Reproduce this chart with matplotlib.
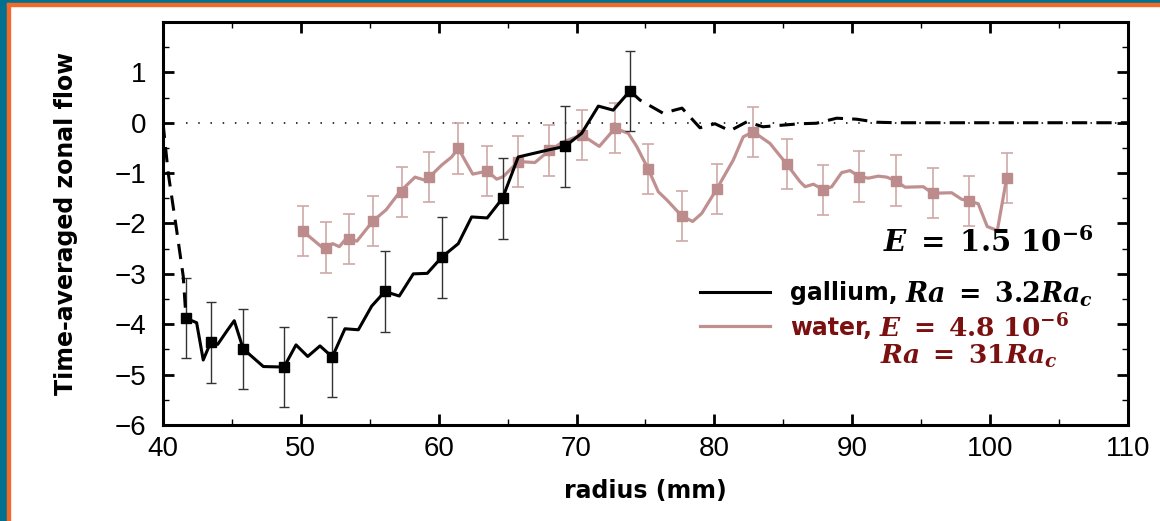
import numpy as np
import matplotlib.pyplot as plt
from matplotlib.patches import Rectangle
from matplotlib.ticker import MultipleLocator

plt.rcParams['font.family'] = ['Liberation Sans', 'DejaVu Sans']
plt.rcParams['mathtext.fontset'] = 'custom'
plt.rcParams['mathtext.rm'] = 'DejaVu Serif:bold'
plt.rcParams['mathtext.it'] = 'DejaVu Serif:italic:bold'
plt.rcParams['mathtext.bf'] = 'DejaVu Serif:bold'

# gallium: squares with error bars
gx = [41.67, 43.46, 45.82, 48.78, 52.28, 56.10, 60.22, 64.63, 69.16, 73.87]
gy = [-3.88, -4.36, -4.49, -4.85, -4.65, -3.35, -2.67, -1.50, -0.47, 0.63]
gerr = 0.8
# gallium solid curve
glx = [41.67, 42.44, 42.92, 43.46, 43.97, 44.62, 45.17, 45.82, 47.28, 48.78, 49.65,
       50.50, 51.39, 52.28, 53.20, 54.17, 55.14, 56.10, 57.14, 58.16, 59.17, 60.22,
       61.42, 62.39, 63.52, 64.63, 65.77, 67.95, 69.16, 70.37, 71.58, 72.66, 73.87]
gly = [-3.88, -3.97, -4.71, -4.36, -4.40, -4.14, -3.93, -4.49, -4.84, -4.85, -4.41,
       -4.64, -4.43, -4.65, -4.09, -4.11, -3.64, -3.35, -3.44, -3.00, -2.99, -2.67,
       -2.40, -1.87, -1.89, -1.50, -0.68, -0.54, -0.47, -0.21, 0.33, 0.25, 0.63]
# gallium dashed parts (extrapolation)
gd1x = [40.0, 40.38, 40.99, 41.47, 41.67]
gd1y = [0.0, -1.0, -2.13, -3.05, -3.88]
gd2x = [73.87, 74.6, 76.27, 77.65, 78.95, 80.04, 81.13, 82.36, 83.52, 86.2, 87.4,
        88.87, 90.32, 91.77, 93.2, 96.0, 100.0, 105.0, 110.0]
gd2y = [0.63, 0.45, 0.19, 0.29, -0.10, -0.02, -0.16, 0.02, -0.08, -0.02, -0.01,
        0.09, 0.07, 0.01, 0.0, 0.0, 0.0, 0.0, 0.0]

# water: squares with error bars
wx = [50.16, 51.82, 53.49, 55.23, 57.31, 59.32, 61.43, 63.52, 65.78, 68.02, 70.37, 72.79,
      75.2, 77.62, 80.16, 82.82, 85.24, 87.9, 90.51, 93.15, 95.83, 98.49, 101.2]
wy = [-2.15, -2.48, -2.31, -1.95, -1.37, -1.08, -0.51, -0.96, -0.77, -0.55, -0.24, -0.11,
      -0.92, -1.85, -1.32, -0.18, -0.82, -1.33, -1.07, -1.15, -1.40, -1.55, -1.10]
werr = 0.5
# water curve
wlx = [50.18, 51.75, 52.31, 52.79, 53.32, 53.49, 54.07, 55.23, 56.18, 57.19, 58.28, 59.13,
       59.32, 60.22, 60.94, 61.42, 62.47, 63.52, 64.21, 64.68, 65.77, 66.98, 68.02, 69.04,
       70.37, 71.65, 72.79, 73.75, 74.36, 75.20, 75.93, 76.54, 77.63, 78.42, 79.08, 80.16,
       81.37, 82.09, 82.82, 84.03, 85.24, 86.21, 86.58, 87.18, 87.90, 88.51, 89.23, 89.84,
       90.51, 91.17, 91.89, 92.50, 93.15, 93.83, 95.15, 95.83, 97.21, 97.94, 98.49, 99.14,
       99.79, 100.52, 101.20]
wly = [-2.16, -2.52, -2.40, -2.46, -2.29, -2.31, -2.35, -1.95, -1.73, -1.37, -1.08, -1.15,
       -1.08, -0.84, -0.68, -0.51, -1.02, -0.96, -1.12, -1.07, -0.77, -0.79, -0.55, -0.38,
       -0.24, -0.47, -0.11, -0.21, -0.47, -0.92, -1.37, -1.53, -1.85, -1.96, -1.80, -1.32,
       -0.74, -0.28, -0.18, -0.41, -0.82, -1.17, -1.27, -1.22, -1.33, -1.27, -0.99, -0.95,
       -1.07, -1.10, -1.06, -1.08, -1.15, -1.28, -1.27, -1.40, -1.39, -1.52, -1.55, -1.61,
       -2.06, -2.14, -1.10]

water_c = '#c09090'
water_err_c = '#d0a8a8'
dark_red = '#7a1010'

fig = plt.figure(figsize=(11.6, 5.21), dpi=100)
ax = fig.add_axes([0.1405, 0.1843, 0.8319, 0.7735])

# slide frame
fig.patches.append(Rectangle((0, 0), 7 / 1160, 1, transform=fig.transFigure, color='#04708f', zorder=0))
fig.patches.append(Rectangle((0, 1 - 3 / 521), 1, 3 / 521, transform=fig.transFigure, color='#04708f', zorder=0))
fig.patches.append(Rectangle((7 / 1160, 0), 3 / 1160, 1 - 3 / 521, transform=fig.transFigure, color='#f26a2a', zorder=0))
fig.patches.append(Rectangle((7 / 1160, 1 - 6 / 521), 1, 3 / 521, transform=fig.transFigure, color='#f26a2a', zorder=0))

ax.hlines(0, gx[0], 110, colors='black', linewidth=1.1, linestyles=(0, (1, 7)), zorder=1)

# water
ax.errorbar(wx, wy, yerr=werr, fmt='none', ecolor=water_err_c, elinewidth=1.2, capsize=4.5, capthick=1.2, zorder=2)
lw_line, = ax.plot(wlx, wly, color=water_c, linewidth=2.3, zorder=3)
ax.plot(wx, wy, 's', color='#bc8c8c', markersize=7, zorder=4)

# gallium
ax.errorbar(gx, gy, yerr=gerr, fmt='none', ecolor='#333333', elinewidth=1.0, capsize=3.5, capthick=1.0, zorder=5)
ax.plot(gd1x, gd1y, color='black', linewidth=2.2, dashes=(5, 3), zorder=6)
ax.plot(gd2x, gd2y, color='black', linewidth=2.2, dashes=(5, 3), zorder=6)
gl_line, = ax.plot(glx, gly, color='black', linewidth=2.2, zorder=6)
ax.plot(gx, gy, 's', color='black', markersize=7, zorder=7)

ax.set_xlim(40, 110)
ax.set_ylim(-6, 2)
ax.xaxis.set_major_locator(MultipleLocator(10))
ax.xaxis.set_minor_locator(MultipleLocator(5))
ax.yaxis.set_major_locator(MultipleLocator(1))
ax.yaxis.set_minor_locator(MultipleLocator(0.5))
ax.set_yticks([-6, -5, -4, -3, -2, -1, 0, 1])
ax.tick_params(which='both', direction='in', top=True, right=True)
ax.tick_params(which='major', length=8, width=2)
ax.tick_params(which='minor', length=4, width=1)
ax.tick_params(axis='x', which='major', labelsize=20, pad=8)
ax.tick_params(axis='y', which='major', labelsize=20, pad=12)
for s in ax.spines.values():
    s.set_linewidth(2.2)

ax.set_xlabel('radius (mm)', fontsize=17, fontweight='bold', family='DejaVu Sans', labelpad=12)
ax.set_ylabel('Time-averaged zonal flow', fontsize=17, fontweight='bold', family='DejaVu Sans', labelpad=26)

leg = ax.legend([gl_line, lw_line], ['gallium,', 'water,'],
                loc='upper left', bbox_to_anchor=(0.534, 0.41), frameon=False,
                handlelength=3.0, handletextpad=0.85, labelspacing=0.45,
                prop={'size': 17, 'weight': 'bold', 'family': 'DejaVu Sans'})
t_ga, t_wa = leg.get_texts()
t_wa.set_color(dark_red)
ax.annotate('$Ra\\;=\\;3.2Ra_c$', xy=(1, 0.5), xycoords=t_ga, xytext=(5, -1),
            textcoords='offset points', ha='left', va='center', fontsize=19.3, zorder=10)
ax.annotate('$E\\;=\\;4.8\\ 10^{-6}$', xy=(1, 0.5), xycoords=t_wa, xytext=(5, 0),
            textcoords='offset points', ha='left', va='center', fontsize=19, color=dark_red, zorder=10)
ax.text(0.964, 0.452, '$E\\;=\\;1.5\\ 10^{-6}$', transform=ax.transAxes, ha='right', va='center', fontsize=21)
ax.text(0.743, 0.171, '$Ra\\;=\\;31Ra_c$', transform=ax.transAxes, ha='left', va='center', fontsize=19,
        color=dark_red)

plt.savefig('out.png', dpi=100)
